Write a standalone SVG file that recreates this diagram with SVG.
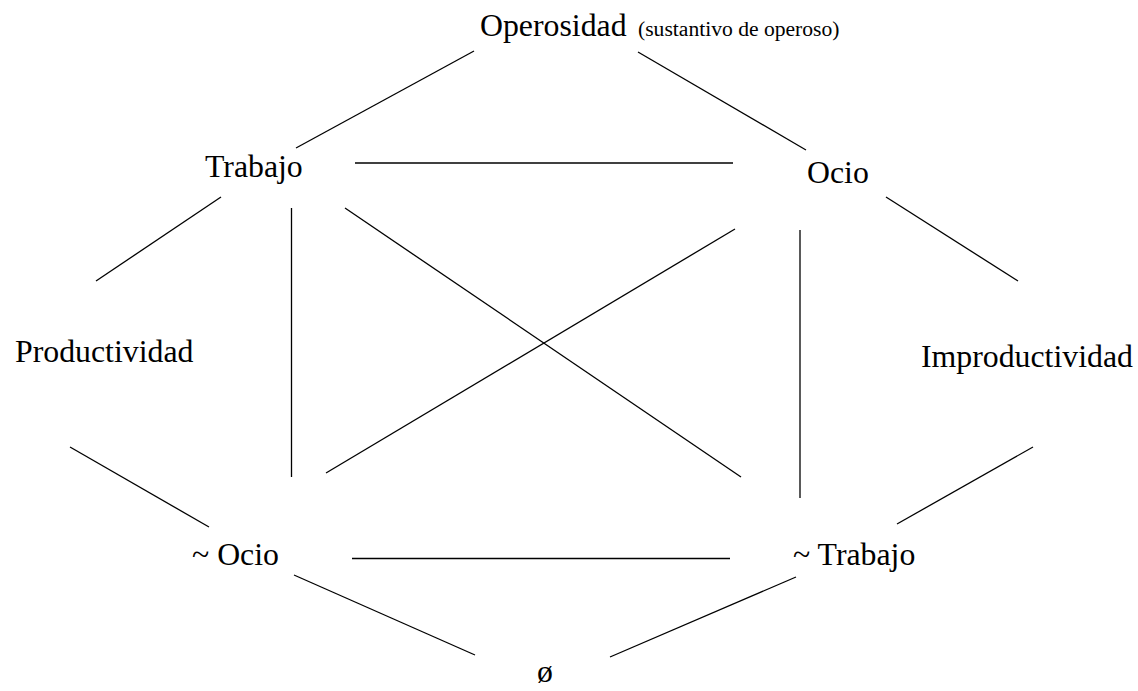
<svg xmlns="http://www.w3.org/2000/svg" width="1138" height="691" viewBox="0 0 1138 691">
<style>
text{font-family:"Liberation Serif","Times New Roman",serif;fill:#000;font-size:31.8px}
.small{font-size:21.6px}
#connectors line{stroke:#000;stroke-width:1.3;fill:none}
</style>
<rect width="1138" height="691" fill="#fff"/>
<g id="connectors">
<line x1="474" y1="51" x2="296" y2="148"/>
<line x1="638" y1="52" x2="806" y2="150"/>
<line x1="355" y1="163" x2="733" y2="163"/>
<line x1="221" y1="197" x2="96" y2="281"/>
<line x1="886" y1="197" x2="1018" y2="281"/>
<line x1="291.5" y1="208" x2="291.5" y2="477"/>
<line x1="345" y1="208" x2="741" y2="477"/>
<line x1="735" y1="229" x2="326" y2="473"/>
<line x1="800" y1="230" x2="800" y2="498"/>
<line x1="70" y1="447" x2="209" y2="527"/>
<line x1="1033" y1="447" x2="897" y2="524"/>
<line x1="352" y1="558.5" x2="730" y2="558.5"/>
<line x1="294" y1="575" x2="475" y2="655"/>
<line x1="796" y1="577" x2="610" y2="657"/>
</g>
<g id="node-operosidad"><text x="480" y="36">Operosidad</text><text class="small" x="638" y="36">(sustantivo de operoso)</text></g>
<g id="node-trabajo"><text x="205" y="177">Trabajo</text></g>
<g id="node-ocio"><text x="807" y="183">Ocio</text></g>
<g id="node-productividad"><text x="15" y="362">Productividad</text></g>
<g id="node-improductividad"><text x="921" y="367">Improductividad</text></g>
<g id="node-no-ocio"><text x="192" y="565">~ Ocio</text></g>
<g id="node-no-trabajo"><text x="793" y="565">~ Trabajo</text></g>
<g id="node-vacio"><text x="537" y="682">ø</text></g>
</svg>
